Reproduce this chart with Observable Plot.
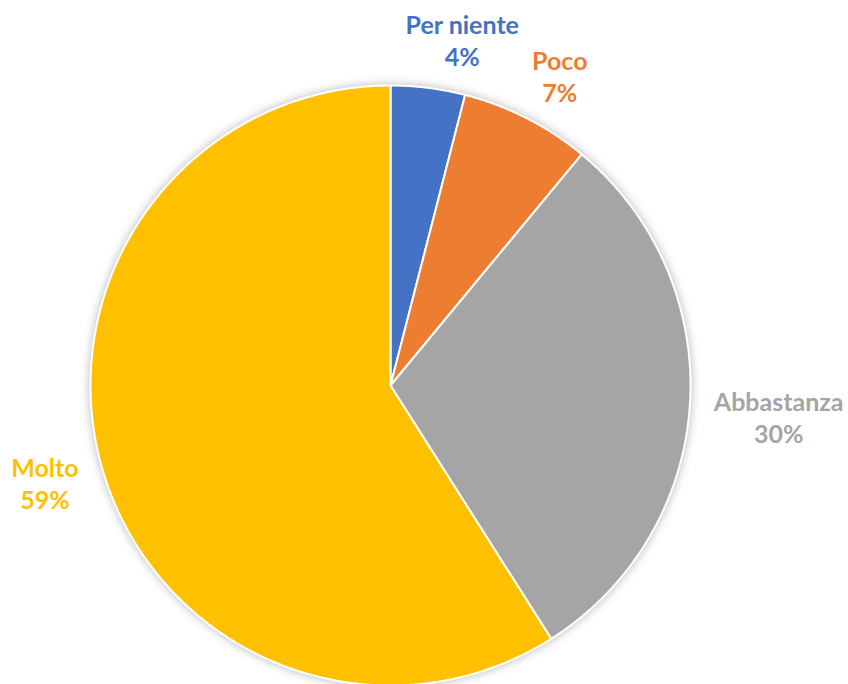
<!DOCTYPE html>
<html>
<head>
<meta charset="utf-8">
<script src="https://cdn.jsdelivr.net/npm/d3@7"></script>
<script src="https://cdn.jsdelivr.net/npm/@observablehq/plot@0.6"></script>
<style>
  html, body { margin: 0; padding: 0; background: #fff; }
  .slices { filter: drop-shadow(0px 0px 5px rgba(0,0,0,0.28)); }
</style>
</head>
<body>
<div id="chart"></div>
<script>
const categories = ["Per niente", "Poco", "Abbastanza", "Molto"];
const values = [4, 7, 30, 59];
const labels = ["4%", "7%", "30%", "59%"];
const colors = ["#4472C4", "#ED7D31", "#A5A5A5", "#FFC000"];

const W = 848, H = 684, CX = 390, CY = 385, R = 300;
const FS = 25;

const arcs = d3.pie().sort(null).value(d => d)(values);

// slice outlines in unit coordinates (angle 0 at top, clockwise)
const pts = [];
arcs.forEach((a, i) => {
  const name = categories[i];
  pts.push({name, x: 0, y: 0});
  const n = Math.max(4, Math.ceil((a.endAngle - a.startAngle) / 0.005));
  for (let k = 0; k <= n; k++) {
    const t = a.startAngle + (a.endAngle - a.startAngle) * k / n;
    pts.push({name, x: Math.sin(t), y: Math.cos(t)});
  }
});

// label positions derived from mid angles and text size, kept inside the frame
const ctx = document.createElement("canvas").getContext("2d");
ctx.font = `bold ${FS}px Lato`;
const xMin = -CX / R, xMax = (W - CX) / R, pad = 5 / R;
const lab = arcs.map((a, i) => {
  const m = (a.startAngle + a.endAngle) / 2;
  const s = Math.sin(m), c = Math.cos(m);
  const hw = ctx.measureText(categories[i]).width / 2 / R;
  const rl = 1.05;
  let x = rl * s + 1.3 * hw * Math.sign(s) * Math.pow(Math.abs(s), 0.4);
  x = Math.max(xMin + pad + hw, Math.min(xMax - pad - hw, x));
  return {
    name: categories[i],
    text: categories[i] + "\n" + labels[i],
    x,
    y: 1.16 * c - (Math.abs(s) > 0.99 ? 0.03 : 0)
  };
});

const chart = Plot.plot({
  width: W,
  height: H,
  margin: 0,
  x: {domain: [xMin, xMax], range: [0, W], axis: null},
  y: {domain: [-(H - CY) / R, CY / R], range: [H, 0], axis: null},
  color: {domain: categories, range: colors},
  marks: [
    Plot.line(pts, {
      x: "x", y: "y", z: "name",
      fill: "name", stroke: "white", strokeWidth: 2,
      curve: "linear-closed", strokeLinejoin: "round",
      className: "slices"
    }),
    Plot.text(lab, {
      x: "x", y: "y", text: "text", fill: "name",
      fontSize: FS, fontWeight: "bold", fontFamily: "Lato",
      lineHeight: 1.28, textAnchor: "middle"
    })
  ]
});
document.getElementById("chart").appendChild(chart);
</script>
</body>
</html>
